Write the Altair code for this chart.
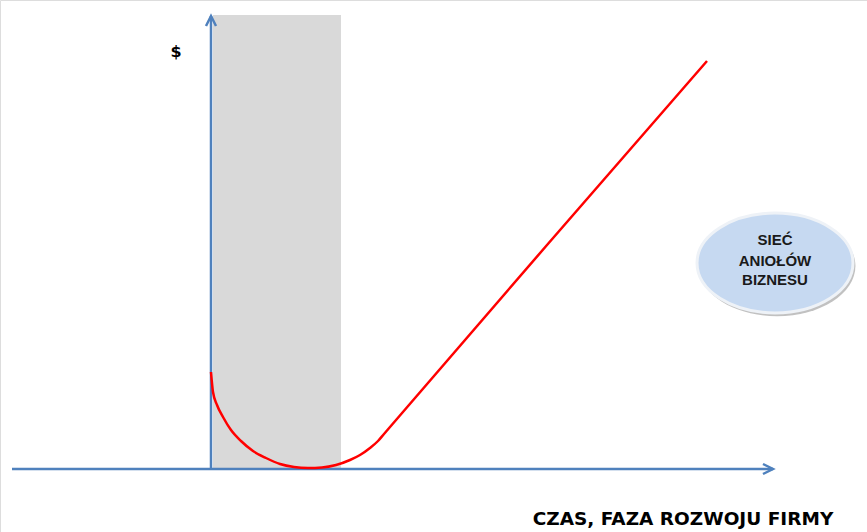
import altair as alt
import pandas as pd

W, H = 867, 532

# Coordinate system: t = time / firm stage (horizontal), v = $ (vertical); origin where the axes cross
t_curve = [0, 2, 6, 12, 20, 30, 42, 55, 69, 83, 97, 111, 125, 139, 149, 159, 167, 173, 179, 336, 496]
v_curve = [97, 77, 64, 52, 39, 28, 18, 11, 5, 2, 1, 1.5, 4, 9, 14, 21, 28, 35, 42, 224, 408]

band_t = [2, 130]
band_v = [-1, 454]

xaxis_t = [-199, 562]
yaxis_v = [-1, 453]

ellipse_t = [564]
ellipse_v = [206]
ellipse_lines = ["SIEĆ", "ANIOŁÓW", "BIZNESU"]
ellipse_line_t = [564, 564, 564]
ellipse_line_v = [229, 208, 189]

y_label = "$"
y_label_pos = [-35, 417]
x_label = "CZAS, FAZA ROZWOJU FIRMY"
x_label_pos = [472, -50]

AXIS_BLUE = "#4f81bd"
xs = alt.Scale(domain=[-211, 656], nice=False, zero=False)
ys = alt.Scale(domain=[-63, 469], nice=False, zero=False)


def X(field="t"):
    return alt.X(f"{field}:Q", scale=xs, axis=None)


def Y(field="v"):
    return alt.Y(f"{field}:Q", scale=ys, axis=None)


band = alt.Chart(pd.DataFrame({"t": [band_t[0]], "t2": [band_t[1]], "v": [band_v[0]], "v2": [band_v[1]]})).mark_rect(
    color="#d9d9d9"
).encode(x=X(), x2="t2:Q", y=Y(), y2="v2:Q")

h_axis = alt.Chart(pd.DataFrame({"t": [xaxis_t[0]], "t2": [xaxis_t[1]], "v": [0]})).mark_rule(
    color=AXIS_BLUE, strokeWidth=2.5
).encode(x=X(), x2="t2:Q", y=Y())

v_axis = alt.Chart(pd.DataFrame({"t": [0], "v": [yaxis_v[0]], "v2": [yaxis_v[1]]})).mark_rule(
    color=AXIS_BLUE, strokeWidth=2.5
).encode(x=X(), y=Y(), y2="v2:Q")

up_head = alt.Chart(pd.DataFrame({"t": [0], "v": [yaxis_v[1]]})).mark_point(
    shape="M-1,2L0,0L1,2", size=100, filled=False, stroke=AXIS_BLUE, strokeWidth=2.5, opacity=1
).encode(x=X(), y=Y())

right_head = alt.Chart(pd.DataFrame({"t": [xaxis_t[1]], "v": [0]})).mark_point(
    shape="M-2,-1L0,0L-2,1", size=100, filled=False, stroke=AXIS_BLUE, strokeWidth=2.5, opacity=1
).encode(x=X(), y=Y())

curve = alt.Chart(pd.DataFrame({"t": t_curve, "v": v_curve})).mark_line(
    color="#ff0000", strokeWidth=2.5, interpolate="monotone"
).encode(x=X(), y=Y())

ELLIPSE = "M-1,0A1,0.64,0,1,0,1,0A1,0.64,0,1,0,-1,0Z"
shadow = alt.Chart(pd.DataFrame({"t": [ellipse_t[0] + 2], "v": [ellipse_v[0] - 3]})).mark_point(
    shape=ELLIPSE, size=24600, filled=True, fill="#a6a6a6", strokeWidth=0, opacity=0.7
).encode(x=X(), y=Y())

ellipse = alt.Chart(pd.DataFrame({"t": ellipse_t, "v": ellipse_v})).mark_point(
    shape=ELLIPSE, size=24336, filled=True, fill="#c6d9f1", stroke="#eef2f7", strokeWidth=3, opacity=1
).encode(x=X(), y=Y())

ell_text = alt.Chart(pd.DataFrame({"t": ellipse_line_t, "v": ellipse_line_v, "txt": ellipse_lines})).mark_text(
    font="Liberation Sans", fontSize=15, fontWeight="bold", color="#1a1a1a", align="center", baseline="middle"
).encode(x=X(), y=Y(), text="txt:N")

ylab = alt.Chart(pd.DataFrame({"t": [y_label_pos[0]], "v": [y_label_pos[1]], "txt": [y_label]})).mark_text(
    font="DejaVu Sans", fontSize=16, fontWeight="bold", color="#000000", align="center", baseline="middle"
).encode(x=X(), y=Y(), text="txt:N")

xlab = alt.Chart(pd.DataFrame({"t": [x_label_pos[0]], "v": [x_label_pos[1]], "txt": [x_label]})).mark_text(
    font="DejaVu Sans", fontSize=18.5, fontWeight="bold", color="#000000", align="center", baseline="middle"
).encode(x=X(), y=Y(), text="txt:N")

chart = alt.layer(
    band, h_axis, v_axis, up_head, right_head, curve, shadow, ellipse, ell_text, ylab, xlab
).properties(
    width=W, height=H, padding=0, autosize=alt.AutoSizeParams(type="none")
).configure_view(stroke=None).configure(background="white")

chart.save("out.html", embed_options={"renderer": "svg", "actions": False})
